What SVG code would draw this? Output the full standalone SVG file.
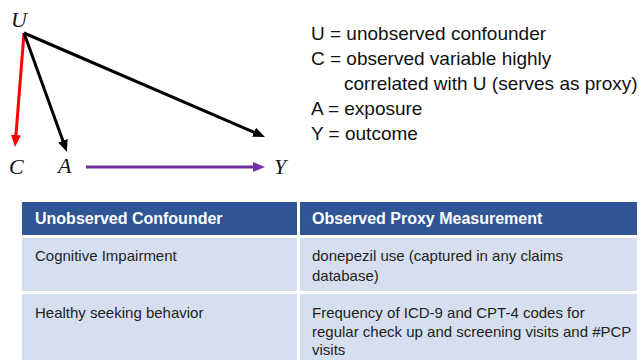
<svg xmlns="http://www.w3.org/2000/svg" width="644" height="360" viewBox="0 0 644 360">
<style>
.var{font-family:"Liberation Serif","DejaVu Serif",serif;font-style:italic;font-size:22px;fill:#111}
.leg{font-family:"Liberation Sans","Noto Sans",sans-serif;font-size:19px;fill:#111}
.hd{font-family:"Liberation Sans","Noto Sans",sans-serif;font-size:16px;font-weight:bold;fill:#fff}
.cell{font-family:"Liberation Sans","Noto Sans",sans-serif;font-size:15px;fill:#222}
.edge{fill:none;stroke-width:3}
</style>
<defs>
<marker id="ahK" markerUnits="userSpaceOnUse" markerWidth="12" markerHeight="10" viewBox="0 0 12 10" refX="3" refY="5" orient="auto"><path d="M0,0 L12,5 L0,10 z" fill="#000"/></marker>
<marker id="ahR" markerUnits="userSpaceOnUse" markerWidth="12" markerHeight="10" viewBox="0 0 12 10" refX="3" refY="5" orient="auto"><path d="M0,0 L12,5 L0,10 z" fill="#ff0000"/></marker>
<marker id="ahP" markerUnits="userSpaceOnUse" markerWidth="12" markerHeight="10" viewBox="0 0 12 10" refX="3" refY="5" orient="auto"><path d="M0,0 L12,5 L0,10 z" fill="#7030a0"/></marker>
</defs>
<rect width="644" height="360" fill="#fff"/>
<g id="connectors">
<line class="edge" x1="24" y1="33" x2="15.7" y2="138" stroke="#ff0000" marker-end="url(#ahR)"/>
<line class="edge" x1="24" y1="33" x2="63.9" y2="143.5" stroke="#000" marker-end="url(#ahK)"/>
<line class="edge" x1="24" y1="33" x2="256.7" y2="133.4" stroke="#000" marker-end="url(#ahK)"/>
<line class="edge" x1="86" y1="167" x2="256" y2="167" stroke="#7030a0" marker-end="url(#ahP)"/>
</g>
<g id="node-U"><text class="var" x="11" y="27">U</text></g>
<g id="node-C"><text class="var" x="9" y="174">C</text></g>
<g id="node-A"><text class="var" x="58" y="173">A</text></g>
<g id="node-Y"><text class="var" x="274" y="174">Y</text></g>
<g id="legend">
<text class="leg" x="311" y="40">U = unobserved confounder</text>
<text class="leg" x="311" y="65">C = observed variable highly</text>
<text class="leg" x="344" y="90">correlated with U (serves as proxy)</text>
<text class="leg" x="311" y="115">A = exposure</text>
<text class="leg" x="311" y="140">Y = outcome</text>
</g>
<g id="table">
<rect x="22" y="202" width="275" height="33" fill="#2f5597"/>
<rect x="300" y="202" width="337" height="33" fill="#2f5597"/>
<rect x="22" y="238" width="275" height="53" fill="#d6dff0"/>
<rect x="300" y="238" width="337" height="53" fill="#d6dff0"/>
<rect x="22" y="294" width="275" height="66" fill="#d6dff0"/>
<rect x="300" y="294" width="337" height="66" fill="#d6dff0"/>
<text class="hd" x="35" y="224">Unobserved Confounder</text>
<text class="hd" x="312" y="224">Observed Proxy Measurement</text>
<text class="cell" x="35" y="261">Cognitive Impairment</text>
<text class="cell" x="312" y="261">donepezil use (captured in any claims</text>
<text class="cell" x="312" y="281">database)</text>
<text class="cell" x="35" y="318">Healthy seeking behavior</text>
<text class="cell" x="312" y="318">Frequency of ICD-9 and CPT-4 codes for</text>
<text class="cell" x="312" y="337">regular check up and screening visits and #PCP</text>
<text class="cell" x="312" y="355">visits</text>
</g>
</svg>
